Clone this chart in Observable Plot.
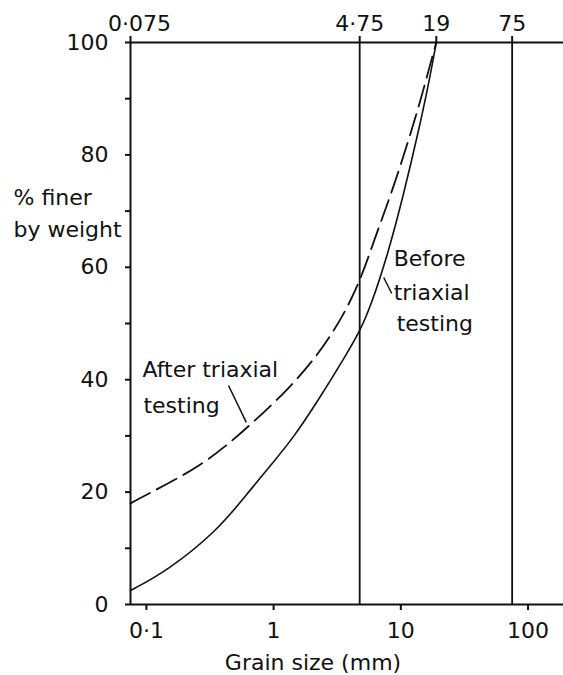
<!DOCTYPE html>
<html>
<head>
<meta charset="utf-8">
<script src="https://cdn.jsdelivr.net/npm/d3@7"></script>
<script src="https://cdn.jsdelivr.net/npm/@observablehq/plot@0.6"></script>
<style>
  html, body { margin: 0; padding: 0; background: #fff; }
  #chart svg { display: block; }
</style>
</head>
<body>
<div id="chart"></div>
<script>
// ---- data ----
const bottomTicks = [0.1, 1, 10, 100];
const topTicks = [0.075, 4.75, 19, 75];
const sieveLines = [4.75, 75];
const yTicks = [0, 10, 20, 30, 40, 50, 60, 70, 80, 90, 100];

const beforeSize  = [0.075, 0.1466, 0.362, 0.58, 1.0, 1.41, 2.21, 3.67, 4.75, 5.78, 7.86, 10.5, 13.8, 16.5, 19];
const beforeFiner = [2.5,   6.0,    13.2,  18.9, 25.4, 29.5, 36.1, 44.2, 48.6, 53.0, 62.1, 72.9, 84.3, 92.5, 100];

const afterSize  = [0.075, 0.1465, 0.266, 0.442, 0.623, 1.286, 2.21, 3.36, 4.75, 6.32, 8.6, 11.5, 14.3, 16.5, 19];
const afterFiner = [18.0,  21.5,   24.7,  28.6,  31.5,  38.1,  44.3, 50.5, 57.3, 65.5, 73.7, 82.6, 89.7, 95.0, 100];

const labelText = ["After triaxial", "testing", "Before", "triaxial", "testing"];
const labelSize = [0.093, 0.0947, 8.79, 8.79, 9.27];
const labelFiner = [43.2, 36.8, 63.1, 56.9, 51.5];

const leaderSize1 = [0.442, 7.34];
const leaderFiner1 = [38.97, 58.19];
const leaderSize2 = [0.61, 8.48];
const leaderFiner2 = [32.4, 55.34];

// ---- build tables ----
const before = beforeSize.map((x, i) => ({x, y: beforeFiner[i]}));
const after = afterSize.map((x, i) => ({x, y: afterFiner[i]}));
const labels = labelText.map((t, i) => ({t, x: labelSize[i], y: labelFiner[i]}));
const leaders = leaderSize1.map((x1, i) => ({x1, y1: leaderFiner1[i], x2: leaderSize2[i], y2: leaderFiner2[i]}));

const fmt = d => String(d).replace(".", "·");
const font = "DejaVu Sans";

const chart = Plot.plot({
  width: 563,
  height: 675,
  marginLeft: 130,
  marginRight: 0,
  marginTop: 42,
  marginBottom: 71,
  style: {fontFamily: font, fontSize: "22px", color: "#111", background: "#fff"},
  x: {type: "log", domain: [0.075, 190]},
  y: {domain: [0, 100]},
  marks: [
    Plot.ruleX(sieveLines, {stroke: "#111", strokeWidth: 1.8}),
    Plot.ruleX([0.075], {stroke: "#111", strokeWidth: 2}),
    Plot.ruleY([0, 100], {stroke: "#111", strokeWidth: 2}),
    Plot.axisY({ticks: yTicks, tickSize: 5, tickPadding: 17, tickFormat: d => d % 20 === 0 ? String(d) : "", strokeWidth: 2, fontSize: 22}),
    Plot.axisX({anchor: "bottom", ticks: bottomTicks, tickSize: 6, tickPadding: 12, tickFormat: fmt, strokeWidth: 2, fontSize: 22}),
    // top reference ticks and labels
    Plot.ruleX(topTicks, {x: d => d, y1: 100, y2: 100, insetTop: -6, stroke: "#111", strokeWidth: 2}),
    Plot.text(topTicks.filter(d => d !== 0.075), {x: d => d, text: fmt, frameAnchor: "top", dy: -12, lineAnchor: "bottom", fontSize: 22, fill: "#111"}),
    Plot.text(topTicks.filter(d => d === 0.075), {x: d => d, text: fmt, frameAnchor: "top", dx: 9, dy: -12, lineAnchor: "bottom", fontSize: 22, fill: "#111"}),
    // curves
    Plot.line(before, {x: "x", y: "y", curve: "basis", stroke: "#111", strokeWidth: 1.6}),
    Plot.line(after, {x: "x", y: "y", curve: "basis", stroke: "#111", strokeWidth: 1.8, strokeDasharray: "22,8"}),
    Plot.link(leaders, {x1: "x1", y1: "y1", x2: "x2", y2: "y2", stroke: "#111", strokeWidth: 1.5}),
    Plot.text(labels, {x: "x", y: "y", text: "t", textAnchor: "start", lineAnchor: "top", fontSize: 22, fill: "#111"}),
    Plot.text(["% finer\nby weight"], {frameAnchor: "top-left", dx: -117, dy: 140, textAnchor: "start", lineAnchor: "top", lineHeight: 1.45, fontSize: 22, fill: "#111"}),
    Plot.text(["Grain size (mm)"], {frameAnchor: "bottom", dx: -34, dy: 50, lineAnchor: "top", fontSize: 22, fill: "#111"})
  ]
});
document.getElementById("chart").appendChild(chart);
</script>
</body>
</html>
